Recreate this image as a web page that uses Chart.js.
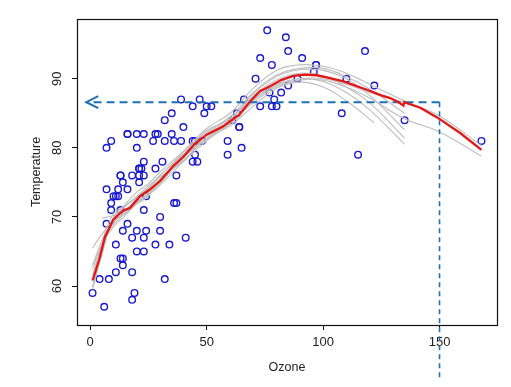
<!DOCTYPE html>
<html>
<head>
<meta charset="utf-8">
<script src="https://cdn.jsdelivr.net/npm/chart.js@4/dist/chart.umd.min.js"></script>
<style>
  body { margin: 0; background: #fff; }
  #wrap { width: 511px; height: 387px; }
</style>
</head>
<body>
<div id="wrap"><canvas id="ozone-chart" width="511" height="387"></canvas></div>
<script>
// airquality rows with Ozone present
const ozone = [41,36,12,18,28,23,19,8,7,16,11,14,18,14,34,6,30,11,1,11,4,32,23,45,115,37,29,71,39,23,
  21,37,20,12,13,135,49,32,64,40,77,97,97,85,10,27,7,48,35,61,79,63,16,80,108,20,52,82,50,64,
  59,39,9,16,78,35,66,122,89,110,44,28,65,22,59,23,31,44,21,9,45,168,73,76,118,84,85,96,78,73,
  91,47,32,20,23,21,24,44,21,28,9,13,46,18,13,24,16,13,23,36,7,14,30,14,18,20]
const temp = [67,72,74,62,66,65,59,61,74,69,66,68,58,64,66,57,68,62,59,73,61,61,67,81,79,76,82,90,87,82,
  77,72,65,73,76,84,85,81,83,83,88,92,92,89,73,81,80,81,82,84,87,85,74,86,85,82,86,88,86,83,
  81,81,81,82,86,85,87,89,90,90,86,82,80,77,79,76,78,78,77,72,79,81,86,97,94,96,94,91,92,93,
  93,87,84,80,78,75,73,81,76,77,71,71,78,67,76,68,82,64,71,81,69,63,70,75,76,68]

// red loess fit
const fitX = [1,4,6.3,9.9,14,17,21.4,25.7,30,35.7,40,45,50,57,64,68.6,72.9,77.2,82,87.2,92,97.3,103,108.7,118.8,
  125,128.8,132.4,134.5,134.8,141.7,149,159,168]
const fitY = [60.8,64.0,67.1,69.6,70.9,71.3,73.0,74.0,75.2,77.4,78.7,80.6,81.9,83.1,84.8,86.7,88.2,88.9,89.8,90.4,90.6,90.5,90.1,89.6,88.4,
  87.6,87.2,86.6,86.1,86.6,85.8,84.4,82.1,79.7]

// bootstrap curves (grey)
const bootX = [1,5,10,15,20,25,30,40,50,60,70,80,90,100,110,120,135,150,168]
const boot1 = [59.5,64.5,69.8,71.5,73.0,74.5,76.0,79.3,82.3,84.5,88.0,90.5,91.5,91.5,90.3,88.5,85.0]
const boot2 = [65.5,67.5,69.5,70.5,72.0,73.5,75.0,78.5,81.5,83.5,86.5,88.8,89.8,89.8,88.8,87.2,84.2,82.3,78.8]
const boot3 = [null,69.8,70.2,70.8,72.0,73.2,74.6,78.0,81.0,83.5,86.8,89.0,90.0,89.6,88.0,85.5,80.5]
const boot4 = [61.5,65.8,69.0,70.5,72.2,73.3,74.8,78.9,82.5,84.2,87.8,90.3,91.3,91.2,90.0,87.6,82.6]
const boot5 = [62.5,66.0,68.6,70.2,71.9,73.0,75.5,78.2,81.3,83.2,86.0,88.6,89.5,88.8,86.8,83.6]
const boot6 = [60.0,65.0,70.0,71.8,73.6,74.8,76.5,79.5,82.8,85.0,88.6,91.2,92.0,91.8,90.8,89.2,86.8,84.6,80.3]
const boot7 = [null,66.5,70.5,71.6,72.8,74.2,76.0,79.0,81.2,84.0,87.5,89.8,90.8,90.4,88.8,86.5,81.4]
const boot8 = [63.0,66.5,69.2,70.8,72.6,74.0,75.8,78.0,82.0,84.2,87.0,89.2,90.0,90.0,89.2,88.0,86.6]
const bootCurves = [boot1,boot2,boot3,boot4,boot5,boot6,boot7,boot8]

// guide: ozone 150 -> predicted temperature
const cutOzone = 150
const cutTemp = 86.6
const arrowEnd = -1.7
const dropTo = 46.4

const xTicks = [0,50,100,150]
const yTicks = [60,70,80,90]

const ctx = document.getElementById('ozone-chart')
const guideColor = 'rgb(30,112,180)'
const font = {family: "'Liberation Sans', Arial, sans-serif", size: 13}

const datasets = []

datasets.push({
  label: 'fit',
  data: fitX.map((x, i) => ({x: x, y: fitY[i]})),
  showLine: true,
  borderColor: 'rgb(228,22,22)',
  borderWidth: 2.3,
  pointRadius: 0,
  tension: 0,
  order: 0
})

datasets.push({
  label: 'h-guide',
  data: [{x: cutOzone, y: cutTemp}, {x: arrowEnd, y: cutTemp}],
  showLine: true,
  borderColor: guideColor,
  borderWidth: 2,
  borderDash: [8, 5],
  pointRadius: 0,
  order: 1
})

datasets.push({
  label: 'v-guide',
  data: [{x: cutOzone, y: cutTemp}, {x: cutOzone, y: dropTo}],
  showLine: true,
  borderColor: guideColor,
  borderWidth: 1.6,
  borderDash: [5, 4],
  pointRadius: 0,
  clip: false,
  order: 1
})

bootCurves.forEach((curve, k) => {
  const pts = []
  for (let i = 0; i < curve.length; i++) {
    if (curve[i] == null) continue
    let x = bootX[i]
    if (curve === boot5 && i === curve.length - 1) x = 122
    pts.push({x: x, y: curve[i]})
  }
  datasets.push({
    label: 'boot' + (k + 1),
    data: pts,
    showLine: true,
    borderColor: 'rgb(190,190,190)',
    borderWidth: 1.1,
    pointRadius: 0,
    tension: 0.4,
    order: 2
  })
})

datasets.push({
  label: 'obs',
  data: ozone.map((x, i) => ({x: x, y: temp[i]})),
  showLine: false,
  pointStyle: 'circle',
  pointRadius: 3.3,
  borderWidth: 1.4,
  borderColor: 'rgb(25,25,205)',
  backgroundColor: 'rgba(0,0,0,0)',
  order: 3
})

// box around the plot region + arrow head
const boxAndArrow = {
  id: 'boxAndArrow',
  afterDraw(chart) {
    const c = chart.ctx
    const a = chart.chartArea
    c.save()
    c.strokeStyle = '#111'
    c.lineWidth = 1.2
    c.strokeRect(Math.round(a.left) + 0.5, Math.round(a.top) + 0.5,
      Math.round(a.right - a.left), Math.round(a.bottom - a.top))
    const px = chart.scales.x.getPixelForValue(arrowEnd)
    const py = chart.scales.y.getPixelForValue(cutTemp)
    c.strokeStyle = guideColor
    c.lineWidth = 2
    c.beginPath()
    c.moveTo(px + 12, py - 6)
    c.lineTo(px, py)
    c.lineTo(px + 12, py + 6)
    c.stroke()
    c.restore()
  }
}

new Chart(ctx, {
  type: 'scatter',
  data: {datasets: datasets},
  options: {
    responsive: false,
    animation: false,
    layout: {padding: {top: 19, right: 14, left: 0, bottom: 0}},
    plugins: {legend: {display: false}, tooltip: {enabled: false}},
    scales: {
      x: {
        type: 'linear',
        min: -5.68,
        max: 174.68,
        afterBuildTicks: s => { s.ticks = xTicks.map(v => ({value: v})) },
        afterFit: s => { s.height = 62 },
        grid: {drawOnChartArea: false, drawTicks: true, tickLength: 5, color: '#111'},
        border: {display: true, color: '#111', width: 1},
        ticks: {padding: 5, font: font, color: '#222', maxRotation: 0},
        title: {display: true, text: 'Ozone', color: '#222',
          font: {family: font.family, size: 12.5}, padding: {top: 0, bottom: 12}}
      },
      y: {
        type: 'linear',
        min: 54.36,
        max: 98.64,
        afterBuildTicks: s => { s.ticks = yTicks.map(v => ({value: v})) },
        afterFit: s => { s.width = 77 },
        grid: {drawOnChartArea: false, drawTicks: true, tickLength: 5, color: '#111'},
        border: {display: true, color: '#111', width: 1},
        ticks: {padding: 7, font: font, color: '#222', minRotation: 90, maxRotation: 90, crossAlign: 'center'},
        title: {display: true, text: 'Temperature', color: '#222',
          font: {family: font.family, size: 12.5}, padding: {top: 29, bottom: 0}}
      }
    }
  },
  plugins: [boxAndArrow]
})
</script>
</body>
</html>
